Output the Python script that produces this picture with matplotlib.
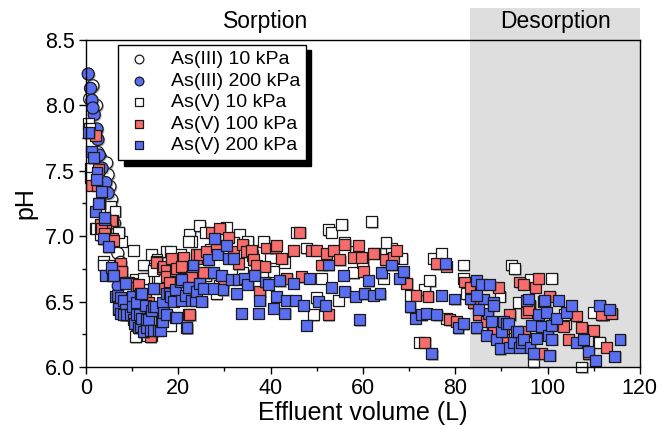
import matplotlib
matplotlib.use("Agg")
import matplotlib.pyplot as plt
import matplotlib.patheffects as pe
from matplotlib.patches import Rectangle
from matplotlib.ticker import MultipleLocator, FormatStrFormatter

plt.rcParams['font.family'] = ['Liberation Sans', 'DejaVu Sans']

# ---- data ----
as3_10_x = [0.8, 1.5, 2.3, 2.1, 2.6, 3.2, 4.5, 4.8, 5.2, 5.6, 6.2, 6.9, 7.5]
as3_10_y = [8.05, 8.15, 8.00, 7.80, 7.64, 7.60, 7.56, 7.47, 7.38, 7.28, 7.10, 6.87, 6.80]

as3_200_x = [0.5, 1.0, 1.3, 1.8, 1.5, 2.4, 2.6, 2.9, 3.5, 4.3, 4.8, 5.6, 6.2, 7.0]
as3_200_y = [8.24, 8.13, 8.04, 7.93, 7.98, 7.82, 7.74, 7.62, 7.52, 7.41, 7.33, 7.21, 6.75, 6.62]

as5_10_x = [0.6, 0.7, 0.9, 0.9, 2.0, 2.3, 3.1, 3.8, 4.9, 3.7, 5.3, 6.3, 7.0, 7.7, 7.1, 10.3,
            12.4, 13.1, 14.2, 14.9, 16.0, 17.5, 18.6, 13.1, 10.9, 18.2, 20.4, 22.5, 22.9,
            24.7, 25.8, 28.3, 30.4, 33.3, 35.1, 38.5, 40.0, 40.6, 45.6, 47.8, 49.2, 49.9,
            51.0, 52.5, 53.2, 55.4, 61.9, 58.3, 57.9, 54.7, 62.6, 66.2, 68.4, 64.4, 70.2,
            73.4, 72.3, 74.5, 75.2, 77.0, 78.1, 81.7, 82.5, 81.7, 89.7, 92.2, 92.9, 93.6,
            96.2, 96.9, 100.9, 103.8, 107.4, 109.9, 111.0, 112.1, 10.7, 12.5, 14.7, 15.4,
            18.3, 22.2, 10.7, 18.3, 103.7, 111.3, 86.0, 88.0, 91.0, 94.0, 98.0, 27.0, 32.0,
            36.0, 43.0, 56.0, 60.0, 65.0, 29.0, 34.0, 26.0]
as5_10_y = [7.86, 7.82, 7.52, 7.45, 7.06, 7.06, 7.01, 6.81, 6.78, 6.78, 7.23, 7.19, 7.03, 6.96,
            7.03, 6.89, 6.78, 6.68, 6.86, 6.75, 6.68, 6.88, 6.86, 6.24, 6.24, 6.32, 6.86,
            7.01, 6.96, 7.08, 7.03, 6.56, 7.07, 7.01, 6.96, 6.96, 6.84, 6.73, 7.03, 6.91,
            6.40, 6.53, 6.68, 7.05, 7.03, 7.09, 7.11, 6.88, 6.72, 6.51, 6.87, 6.91, 6.83,
            6.68, 6.55, 6.59, 6.19, 6.66, 6.83, 6.87, 6.37, 6.78, 6.56, 6.68, 6.54, 6.78,
            6.75, 6.49, 6.67, 6.04, 6.68, 6.33, 6.00, 6.42, 6.19, 6.40, 6.67, 6.68, 6.74,
            6.82, 6.88, 6.96, 6.23, 6.32, 6.40, 6.19, 6.45, 6.30, 6.22, 6.25, 6.35, 6.90,
            6.95, 6.85, 6.80, 6.95, 6.80, 6.95, 6.62, 6.72, 6.70]

as5_100_x = [2.0, 2.7, 1.3, 2.4, 5.8, 3.8, 3.1, 5.5, 4.2, 5.8, 3.4, 4.1, 5.9, 7.4, 7.7, 7.8,
             8.8, 9.2, 9.9, 11.0, 11.4, 9.5, 12.1, 12.9, 13.5, 14.2, 13.9, 12.4, 15.2, 15.3,
             15.7, 16.5, 16.8, 17.5, 17.5, 18.2, 18.6, 19.3, 19.6, 21.1, 20.7, 21.1, 22.2,
             22.5, 22.9, 23.9, 24.0, 24.7, 25.4, 26.1, 27.2, 28.3, 29.0, 29.7, 30.8, 31.9,
             33.0, 34.0, 34.8, 35.9, 36.3, 37.0, 37.7, 38.8, 39.2, 41.0, 41.3, 42.4, 43.5,
             44.9, 46.3, 46.7, 48.8, 49.9, 51.0, 52.1, 52.5, 53.6, 55.0, 56.1, 57.9, 59.0,
             59.7, 60.1, 62.2, 64.8, 66.6, 67.3, 69.5, 71.5, 73.4, 74.1, 76.0, 78.1, 78.8,
             80.3, 82.1, 83.2, 83.9, 85.0, 86.8, 88.2, 89.3, 90.4, 91.8, 92.9, 94.0, 94.7,
             95.5, 96.2, 97.3, 98.0, 99.1, 100.5, 101.6, 103.4, 104.5, 106.3, 107.4, 109.9,
             111.7, 112.8, 113.9, 98.7, 108.8, 95.8, 90.4, 95.1]
as5_100_y = [7.77, 7.51, 7.39, 7.39, 7.12, 7.07, 7.09, 7.12, 7.05, 6.98, 7.06, 7.02, 6.97, 6.79,
             6.73, 6.73, 6.65, 6.65, 6.64, 6.61, 6.63, 6.47, 6.46, 6.55, 6.49, 6.24, 6.23,
             6.31, 6.81, 6.80, 6.60, 6.75, 6.77, 6.74, 6.69, 6.65, 6.83, 6.74, 6.75, 6.84,
             6.77, 6.68, 6.40, 6.40, 6.69, 6.83, 6.86, 6.86, 6.72, 6.88, 7.03, 6.92, 7.06,
             6.65, 6.99, 6.88, 6.79, 6.94, 6.88, 6.89, 6.82, 6.78, 6.58, 6.77, 6.91, 6.91,
             6.93, 6.83, 6.68, 6.89, 7.03, 6.69, 6.89, 6.89, 6.78, 6.87, 6.40, 6.89, 6.82,
             6.94, 6.84, 6.93, 6.84, 6.73, 6.87, 6.82, 6.84, 6.89, 6.64, 6.55, 6.19, 6.54,
             6.79, 6.77, 6.36, 6.35, 6.65, 6.61, 6.49, 6.40, 6.35, 6.28, 6.61, 6.27, 6.40,
             6.18, 6.65, 6.63, 6.42, 6.47, 6.61, 6.68, 6.50, 6.54, 6.35, 6.31, 6.21, 6.39,
             6.30, 6.28, 6.40, 6.15, 6.41, 6.10, 6.10, 6.44, 6.21, 6.27]

as5_200_x = [0.65, 1.2, 1.6, 2.4, 2.3, 3.4, 3.0, 2.0, 2.7, 4.0, 4.1, 3.8, 4.9, 4.3, 5.8, 5.6,
             5.9, 6.4, 6.8, 7.4, 7.0, 7.1, 7.4, 8.2, 8.5, 8.5, 8.2, 8.8, 9.6, 10.0, 10.0,
             10.3, 10.6, 11.0, 11.0, 11.3, 11.7, 11.8, 11.8, 12.1, 12.1, 12.4, 12.9, 13.2,
             13.1, 13.6, 13.9, 14.3, 14.6, 14.7, 14.7, 15.0, 15.7, 16.1, 16.4, 16.5, 16.5,
             16.8, 17.5, 17.5, 18.2, 18.3, 19.0, 19.3, 19.4, 19.6, 20.4, 20.7, 20.8, 21.5,
             21.8, 21.9, 22.2, 22.9, 23.0, 23.2, 23.7, 23.9, 24.7, 25.1, 25.4, 26.5, 27.6,
             27.9, 27.6, 28.6, 29.4, 29.7, 30.4, 30.8, 31.5, 31.9, 32.6, 33.0, 33.7, 34.4,
             35.1, 36.6, 37.3, 37.7, 38.8, 39.5, 40.6, 41.3, 42.0, 43.1, 43.5, 44.9, 45.3,
             47.1, 47.8, 48.5, 50.3, 51.8, 52.5, 53.2, 55.7, 56.1, 58.3, 59.2, 60.4, 61.2,
             62.2, 63.7, 64.0, 66.2, 68.0, 68.7, 70.2, 71.3, 72.7, 73.8, 74.9, 76.0, 77.0,
             77.8, 79.9, 80.6, 81.7, 83.2, 84.6, 84.6, 85.7, 86.1, 86.8, 87.1, 87.5, 87.9,
             88.2, 88.2, 85.0, 84.6, 88.9, 89.7, 90.0, 90.4, 91.1, 91.5, 91.8, 92.6, 93.3,
             93.6, 94.0, 94.4, 94.7, 95.5, 95.8, 96.2, 96.5, 96.9, 97.6, 98.0, 98.7, 99.4,
             99.8, 100.1, 100.5, 100.9, 100.9, 101.9, 102.3, 104.1, 105.2, 106.3, 107.7,
             108.8, 110.3, 111.3, 113.5, 114.6, 115.7]
as5_200_y = [7.79, 7.65, 7.60, 7.49, 7.43, 7.34, 7.25, 7.19, 7.25, 7.13, 7.14, 6.98, 6.92, 6.70,
             6.70, 6.76, 6.70, 6.54, 6.55, 6.53, 6.44, 6.45, 6.41, 6.51, 6.64, 6.44, 6.40,
             6.40, 6.40, 6.54, 6.46, 6.36, 6.33, 6.49, 6.40, 6.30, 6.40, 6.56, 6.31, 6.37,
             6.56, 6.27, 6.47, 6.30, 6.36, 6.36, 6.28, 6.43, 6.46, 6.60, 6.28, 6.46, 6.28,
             6.28, 6.35, 6.49, 6.35, 6.42, 6.56, 6.40, 6.56, 6.54, 6.50, 6.38, 6.59, 6.38,
             6.65, 6.67, 6.51, 6.55, 6.30, 6.30, 6.61, 6.51, 6.77, 6.78, 6.51, 6.58, 6.64,
             6.50, 6.60, 6.82, 6.60, 6.98, 6.72, 6.86, 6.70, 6.59, 6.93, 6.83, 6.67, 6.83,
             6.56, 6.67, 6.41, 6.68, 6.63, 6.70, 6.41, 6.51, 6.65, 6.63, 6.45, 6.54, 6.66,
             6.41, 6.51, 6.64, 6.51, 6.47, 6.32, 6.68, 6.50, 6.47, 6.78, 6.61, 6.70, 6.58,
             6.54, 6.36, 6.56, 6.66, 6.55, 6.56, 6.72, 6.78, 6.68, 6.73, 6.46, 6.37, 6.40,
             6.41, 6.10, 6.40, 6.55, 6.79, 6.52, 6.30, 6.33, 6.52, 6.66, 6.30, 6.63, 6.52,
             6.24, 6.41, 6.63, 6.35, 6.49, 6.47, 6.44, 6.55, 6.21, 6.14, 6.27, 6.35, 6.33,
             6.33, 6.15, 6.19, 6.27, 6.27, 6.15, 6.19, 6.21, 6.51, 6.52, 6.15, 6.32, 6.10,
             6.22, 6.40, 6.31, 6.51, 6.42, 6.24, 6.09, 6.21, 6.32, 6.37, 6.51, 6.42, 6.47,
             6.19, 6.21, 6.12, 6.05, 6.47, 6.44, 6.08, 6.21]

labels = ['As(III) 10 kPa', 'As(III) 200 kPa', 'As(V) 10 kPa', 'As(V) 100 kPa', 'As(V) 200 kPa']
phase_labels = ['Sorption', 'Desorption']
desorption_start = 83.2

# ---- figure ----
fig = plt.figure(figsize=(6.61, 4.29), dpi=100)
ax = fig.add_axes([0.130, 0.1445, 0.838, 0.7623])

ax.add_patch(Rectangle((desorption_start, 0), 120 - desorption_start, 1.098,
                       transform=ax.get_xaxis_transform(), clip_on=False,
                       facecolor='#dedede', edgecolor='none', zorder=0))

shadow = [pe.SimplePatchShadow(offset=(1.0, -1.0), shadow_rgbFace='0.35', alpha=0.45), pe.Normal()]
red = '#F86C6C'
blue = '#5A6EF2'
edge = '#1a1a1a'
s_sq = 62
s_ci = 76
lw = 0.9

series = [
    (as3_10_x, as3_10_y, 'o', 'white', s_ci),
    (as3_200_x, as3_200_y, 'o', blue, s_ci),
    (as5_10_x, as5_10_y, 's', 'white', s_sq),
    (as5_100_x, as5_100_y, 's', red, s_sq),
    (as5_200_x, as5_200_y, 's', blue, s_sq),
]
handles = []
for (xs, ys, m, fc, s), lab in zip(series, labels):
    h = ax.scatter(xs, ys, marker=m, s=s, facecolor=fc, edgecolor=edge, linewidth=lw,
                   label=lab, zorder=3, clip_on=False)
    h.set_path_effects(shadow)
    handles.append(h)

ax.set_xlim(0, 120)
ax.set_ylim(6.0, 8.5)
ax.xaxis.set_major_locator(MultipleLocator(20))
ax.xaxis.set_minor_locator(MultipleLocator(10))
ax.yaxis.set_major_locator(MultipleLocator(0.5))
ax.yaxis.set_minor_locator(MultipleLocator(0.25))
ax.yaxis.set_major_formatter(FormatStrFormatter('%.1f'))
ax.tick_params(which='both', direction='out', width=1.0, colors='black', labelsize=15.5)
ax.tick_params(which='major', length=5, pad=3)
ax.tick_params(which='minor', length=3)
for sp in ax.spines.values():
    sp.set_linewidth(1.0)
    sp.set_zorder(5)

ax.set_xlabel('Effluent volume (L)', fontsize=18, labelpad=1)
ax.set_ylabel('pH', fontsize=18, labelpad=5)

ax.text(39.0, 1.055, phase_labels[0], transform=ax.get_xaxis_transform(),
        ha='center', va='center', fontsize=16.5)
ax.text(101.8, 1.055, phase_labels[1], transform=ax.get_xaxis_transform(),
        ha='center', va='center', fontsize=16.5)

leg = ax.legend(handles=handles, loc='upper left', bbox_to_anchor=(0.058, 0.985),
                fontsize=14, frameon=True, fancybox=False, borderpad=0.3, markerscale=0.72,
                labelspacing=0.2, handletextpad=0.8, handlelength=1.6, borderaxespad=0,
                shadow={'color': 'black', 'alpha': 1.0, 'ox': 4.0, 'oy': -4.0})
leg.get_frame().set_edgecolor('black')
leg.get_frame().set_linewidth(1.0)
leg.set_zorder(10)
for h in leg.legend_handles:
    h.set_path_effects([])

fig.savefig('out.png', dpi=100)
